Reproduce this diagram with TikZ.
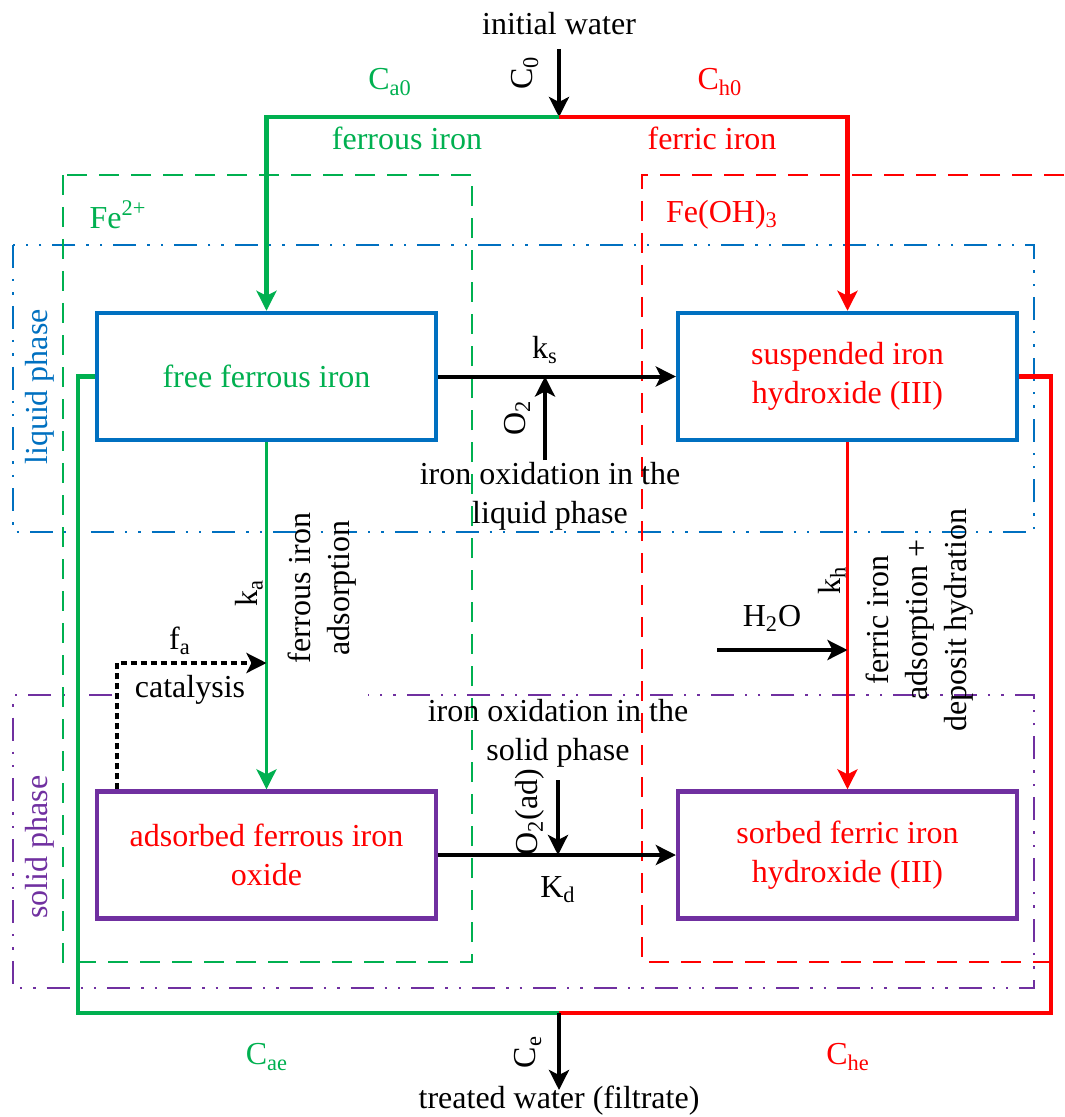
\documentclass[tikz,border=0pt]{standalone}
\usepackage{fontspec}
\setmainfont{Liberation Serif}
\usetikzlibrary{arrows.meta}
\definecolor{cg}{RGB}{0,176,80}
\definecolor{cr}{RGB}{255,0,0}
\definecolor{cb}{RGB}{0,112,192}
\definecolor{cp}{RGB}{112,48,160}
\tikzset{%
  box/.style={draw=#1,line width=2.2pt,minimum width=169.5pt,minimum height=63.5pt,align=center,fill=white},
  box/.default=cb,
  lbl/.style={inner sep=1pt,align=center},
  tip/.style={-{Stealth[length=10pt,width=10pt,inset=2.5pt]}},
  flow/.style={line width=2pt,tip},
  pipe/.style={line width=2.2pt},
  phase/.style={line width=1.2pt,dash pattern=on 11.5pt off 5.5pt on 1.2pt off 5.5pt on 1.2pt off 5.5pt},
  ion/.style={line width=1.2pt,dash pattern=on 10pt off 6pt}
}

\begin{document}
\begin{tikzpicture}[x=0.5pt,y=-0.5pt,font=\fontsize{16}{19.5}\selectfont]
  \useasboundingbox (0,0) rectangle (1064,1117);
  % phases and iron forms
  \draw[phase,cb] (13,245) rectangle (1034,532);
  \draw[phase,cp] (112,695) -- (13,695) -- (13,988) -- (1034,988) -- (1034,695) -- (368,695);
  \node[cb,rotate=90] (liq) at (40,387) {liquid phase};
  \node[cp,rotate=90] (sol) at (40,847) {solid phase};
  \draw[ion,cg] (63,175) rectangle (472,962);
  \draw[ion,cr] (1064,175) -- (642,175) -- (642,962) -- (1064,962);
  \node[cg] (fe2) at (118,215) {Fe\textsuperscript{2+}};
  \node[cr] (feoh) at (722,215) {Fe(OH)\textsubscript{3}};
  % boxes
  \node[box,text=cg] (free) at (266.5,376.5) {free ferrous iron};
  \node[box,text=cr] (susp) at (847.5,376.5) {suspended iron\\hydroxide (III)};
  \node[box=cp,text=cr] (adso) at (266.5,855) {adsorbed ferrous iron\\oxide};
  \node[box=cp,text=cr] (sorb) at (847.5,855) {sorbed ferric iron\\hydroxide (III)};
  % inlet
  \node (inw) at (559,24) {initial water};
  \coordinate (inl) at (559,49);
  \coordinate (split) at (559,117);
  \draw[flow] (inl) -- (split);
  \node[rotate=90] (c0) at (525,73) {C\textsubscript{0}};
  \node[cg] (ca0) at (390,82) {C\textsubscript{a0}};
  \node[cr] (ch0) at (720,82) {C\textsubscript{h0}};
  \node[cg] (fous) at (407,138) {ferrous iron};
  \node[cr] (fic) at (712,138) {ferric iron};
  \draw[pipe,cg,tip] (split) -| (free.north);
  \draw[pipe,cr,tip] (split) -| (susp.north);
  % liquid oxidation
  \draw[flow] (free) -- (susp);
  \node (ks) at (545,350) {k\textsubscript{s}};
  \coordinate (o2l) at (545,460);
  \coordinate (o2t) at (545,376.5);
  \draw[flow] (o2l) -- (o2t);
  \node[rotate=90] (o2) at (517,418) {O\textsubscript{2}};
  \node[lbl] (oxl) at (550,496) {iron oxidation in the\\liquid phase};
  % ferrous adsorption
  \draw[cg,line width=1.8pt,tip] (free) -- (adso);
  \node[rotate=90] (ka) at (249,593) {k\textsubscript{a}};
  \node[rotate=90,lbl] (fadso) at (322,588) {ferrous iron\\adsorption};
  \coordinate (cat) at (117,663);
  \coordinate (catend) at (266.5,663);
  \draw[line width=2pt,dash pattern=on 3pt off 2pt,tip] (adso.north -| cat) -- (cat) -- (catend);
  \node (fa) at (180,641) {f\textsubscript{a}};
  \node (catl) at (190,690) {catalysis};
  % ferric adsorption
  \draw[cr,line width=1.8pt,tip] (susp) -- (sorb);
  \node[rotate=90] (kh) at (832,580) {k\textsubscript{h}};
  \node[rotate=90,lbl] (fiadso) at (920,620) {ferric iron\\adsorption +\\deposit hydration};
  \node (h2o) at (772,618) {H\textsubscript{2}O};
  \coordinate (h2ol) at (717,650);
  \draw[flow] (h2ol) -- (h2ol -| susp);
  % solid oxidation
  \node[lbl] (oxs) at (558,733) {iron oxidation in the\\solid phase};
  \coordinate (o2adt) at (558,780);
  \coordinate (o2adb) at (558,855);
  \draw[flow] (o2adt) -- (o2adb);
  \node[rotate=90] (o2ad) at (530,812) {O\textsubscript{2}(ad)};
  \draw[flow] (adso) -- (sorb);
  \node (kd) at (558,890) {K\textsubscript{d}};
  % outlet
  \coordinate (merge) at (559,1013);
  \coordinate (outl) at (559,1090);
  \draw[pipe,cg] (free.west) -- ++(-17,0) |- (merge);
  \draw[pipe,cr] (susp.east) -- ++(32,0) |- (merge);
  \draw[flow] (merge) -- (outl);
  \node[rotate=90] (ce) at (528,1052) {C\textsubscript{e}};
  \node[cg] (cae) at (267,1057) {C\textsubscript{ae}};
  \node[cr] (che) at (848,1057) {C\textsubscript{he}};
  \node (trw) at (559,1101) {treated water (filtrate)};
\end{tikzpicture}
\end{document}
